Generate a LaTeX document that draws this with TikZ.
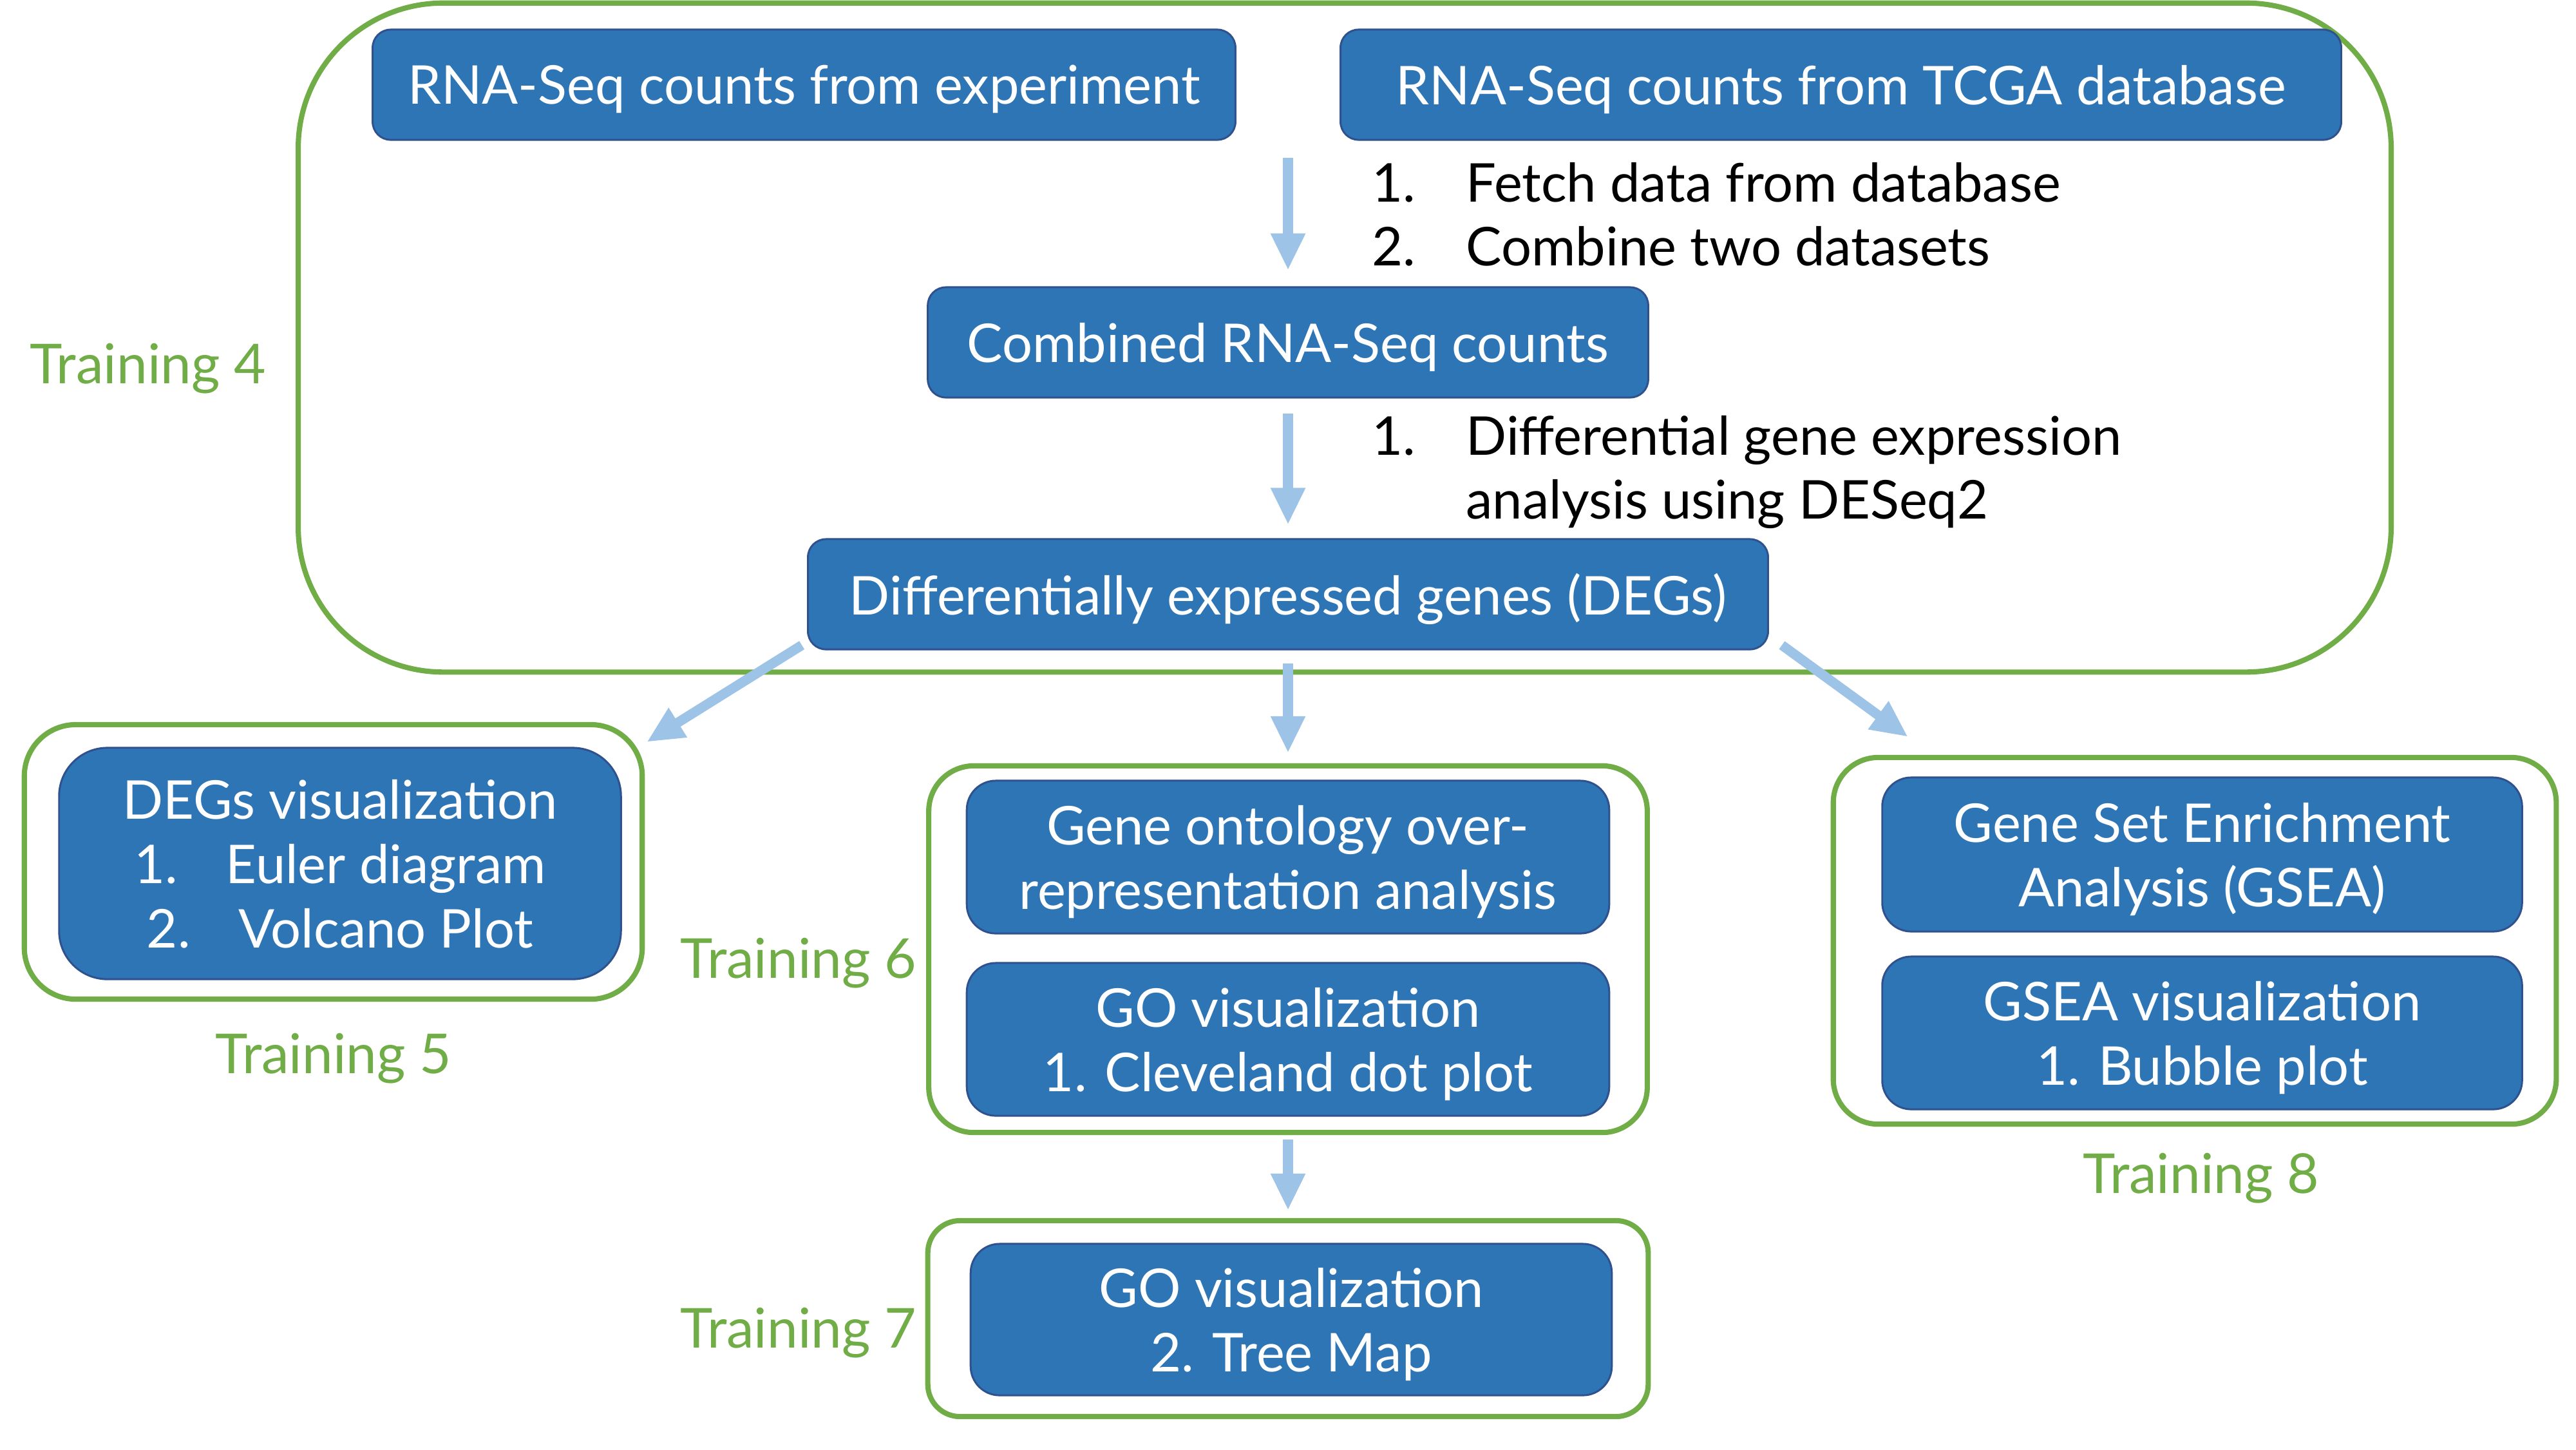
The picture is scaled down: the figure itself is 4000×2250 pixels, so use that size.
\documentclass[tikz,border=0pt]{standalone}
\usepackage{fontspec}
\setmainfont{Lato}
\usetikzlibrary{arrows.meta}
\definecolor{boxblue}{HTML}{2E75B6}
\definecolor{boxline}{HTML}{2F528F}
\definecolor{tgreen}{HTML}{70AD47}
\definecolor{arrblue}{HTML}{9DC3E6}
\newcommand{\mainfs}{\fontsize{23.6pt}{28.45pt}\selectfont}
\newcommand{\labfs}{\fontsize{24.3pt}{28.45pt}\selectfont}
\tikzset{
  bbox/.style={draw=boxline, fill=boxblue, line width=0.85pt, rounded corners=#1, text=white, align=center, inner sep=0pt, font=\mainfs, text depth=0pt},
  bbox/.default=0.28cm,
  gbox/.style={draw=tgreen, line width=2.3pt, rounded corners=#1, inner sep=0pt},
  gbox/.default=0.7cm,
  tlabel/.style={text=tgreen, font=\labfs, inner sep=0pt, text depth=0pt},
  ltext/.style={text=black, font=\mainfs, inner sep=0pt, anchor=base west},
  arr/.style={draw=arrblue, line width=4.3pt, -{Triangle[width=0.5cm,length=0.57cm]}},
}
\begin{document}
\begin{tikzpicture}[x=0.01cm,y=-0.01cm]
\fill[white] (0,0) rectangle (4000,2250);
\useasboundingbox (0,0) rectangle (4000,2250);

% Training 4 group
\node[gbox=2.25cm, minimum width=32.48cm, minimum height=10.38cm] (t4) at (2088,524) {};
\node[tlabel] (l4) at (230,564) {Training 4};

\node[bbox, minimum width=13.39cm, minimum height=1.71cm] (exp) at (1248.5,131.5) {RNA-Seq counts from experiment};
\node[bbox, minimum width=15.53cm, minimum height=1.71cm] (tcga) at (2858.5,131.5) {RNA-Seq counts from TCGA database};
\node[bbox, minimum width=11.18cm, minimum height=1.71cm] (comb) at (2000,531.5) {Combined RNA-Seq counts};
\node[bbox, minimum width=14.90cm, minimum height=1.71cm] (degs) at (2000,922.5) {Differentially expressed genes (DEGs)};

\node[ltext] (n1) at (2130,313) {1.};
\node[ltext] (f1) at (2276,313) {Fetch data from database};
\node[ltext] (n2) at (2130,412) {2.};
\node[ltext] (f2) at (2276,412) {Combine two datasets};
\node[ltext] (n3) at (2130,706) {1.};
\node[ltext] (f3a) at (2276,706) {Differential gene expression};
\node[ltext] (f3b) at (2276,805) {analysis using DESeq2};

\coordinate (a1) at (2000,245);
\draw[arr] (a1) -- ([shift={(0,-25)}]comb.north);
\draw[arr] ([shift={(0,23)}]comb.south) -- ([shift={(0,-21)}]degs.north);

% Training 5
\node[gbox=0.8cm, minimum width=9.59cm, minimum height=4.26cm] (t5) at (517.5,1338) {};
\node[bbox=0.75cm, minimum width=8.72cm, minimum height=3.59cm] (deg5) at (528,1340.5)
  {DEGs visualization\\1.\hspace{0.75cm}Euler diagram\\2.\hspace{0.75cm}Volcano Plot};
\node[tlabel] (l5) at (518,1635) {Training 5};

% Training 6
\node[gbox=0.7cm, minimum width=11.15cm, minimum height=5.69cm] (t6) at (2000,1473.5) {};
\node[bbox=0.45cm, minimum width=9.97cm, minimum height=2.37cm] (go1) at (2000,1330.5)
  {Gene ontology over-\\representation analysis};
\node[bbox=0.45cm, minimum width=9.97cm, minimum height=2.37cm] (go2) at (2000,1613.5)
  {GO visualization\\1. Cleveland dot plot};
\node[tlabel] (l6) at (1240,1487) {Training 6};

% Training 7
\node[gbox=0.5cm, minimum width=11.18cm, minimum height=3.04cm] (t7) at (2000,2047) {};
\node[bbox=0.45cm, minimum width=9.95cm, minimum height=2.35cm] (go3) at (2005,2048.5)
  {GO visualization\\2. Tree Map};
\node[tlabel] (l7) at (1240,2061) {Training 7};

% Training 8
\node[gbox=0.7cm, minimum width=11.22cm, minimum height=5.69cm] (t8) at (3408,1460.5) {};
\node[bbox=0.45cm, minimum width=9.93cm, minimum height=2.39cm] (gs1) at (3419.5,1326.5)
  {Gene Set Enrichment\\Analysis (GSEA)};
\node[bbox=0.45cm, minimum width=9.93cm, minimum height=2.37cm] (gs2) at (3419.5,1603.5)
  {GSEA visualization\\1. Bubble plot};
\node[tlabel] (l8) at (3418,1821) {Training 8};

% Arrows from DEGs
\draw[arr] ([shift={(-8,-8)}]degs.south west) -- ([shift={(3,31)}]t5.north east);
\draw[arr] ([shift={(0,20)}]degs.south) -- ([shift={(0,-16)}]t6.north);
\draw[arr] ([shift={(20,-8)}]degs.south east) -- ([shift={(120,-28)}]t8.north west);
\draw[arr] ([shift={(0,7)}]t6.south) -- ([shift={(0,-12)}]t7.north);
\end{tikzpicture}
\end{document}
